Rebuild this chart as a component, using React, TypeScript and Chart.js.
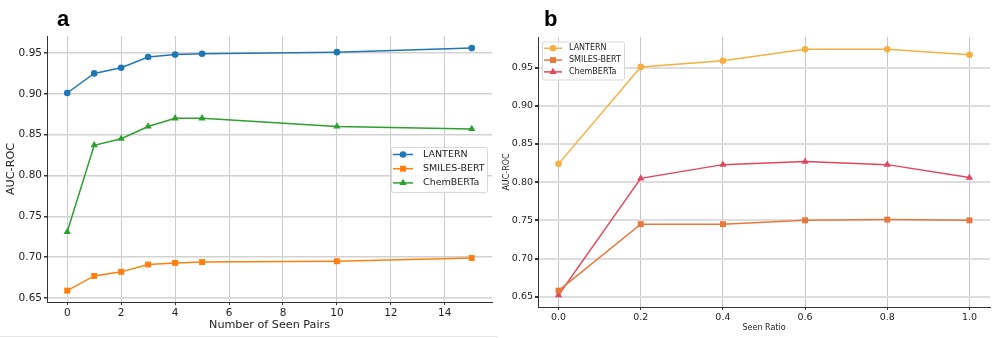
import React, { useEffect, useRef } from "react";
import { Chart, registerables } from "chart.js";

Chart.register(...registerables);

// ---------- Data ----------
const seriesNames = ["LANTERN", "SMILES-BERT", "ChemBERTa"];

// Panel a
const pairsX = [0, 1, 2, 3, 4, 5, 10, 15];
const pairsLantern = [0.901, 0.925, 0.932, 0.945, 0.948, 0.949, 0.951, 0.956];
const pairsSmiles = [0.659, 0.677, 0.682, 0.691, 0.693, 0.694, 0.695, 0.699];
const pairsChem = [0.731, 0.837, 0.845, 0.860, 0.870, 0.870, 0.860, 0.857];
const pairsXTicks = [0, 2, 4, 6, 8, 10, 12, 14];
const aucTicks = [0.65, 0.7, 0.75, 0.8, 0.85, 0.9, 0.95];

// Panel b
const ratioX = [0, 0.2, 0.4, 0.6, 0.8, 1.0];
const ratioLantern = [0.824, 0.951, 0.959, 0.974, 0.974, 0.967];
const ratioSmiles = [0.658, 0.745, 0.745, 0.750, 0.751, 0.750];
const ratioChem = [0.652, 0.805, 0.823, 0.827, 0.823, 0.806];
const ratioXTicks = [0, 0.2, 0.4, 0.6, 0.8, 1.0];

const FONT = "'DejaVu Sans', sans-serif";
Chart.defaults.font.family = FONT;

const toPts = (xs: number[], ys: number[]) => xs.map((x, i) => ({ x, y: ys[i] }));

function drawMarker(ctx: CanvasRenderingContext2D, style: string, x: number, y: number, r: number, color: string) {
  ctx.save();
  ctx.fillStyle = color;
  ctx.beginPath();
  if (style === "circle") {
    ctx.arc(x, y, r, 0, Math.PI * 2);
  } else if (style === "rect") {
    const s = r * Math.SQRT1_2;
    ctx.rect(x - s, y - s, 2 * s, 2 * s);
  } else if (style === "triangle") {
    const xo = r * Math.sin(Math.PI / 3);
    ctx.moveTo(x, y - r);
    ctx.lineTo(x + xo, y + r / 2);
    ctx.lineTo(x - xo, y + r / 2);
    ctx.closePath();
  }
  ctx.fill();
  ctx.restore();
}

const boxLegend = {
  id: "boxLegend",
  afterDraw(chart: any, _args: any, o: any) {
    const ctx: CanvasRenderingContext2D = chart.ctx;
    ctx.save();
    ctx.beginPath();
    (ctx as any).roundRect(o.x + 0.5, o.y + 0.5, o.w, o.h, 2);
    ctx.fillStyle = "rgba(255,255,255,0.85)";
    ctx.fill();
    ctx.strokeStyle = "#d8d8d8";
    ctx.lineWidth = 1;
    ctx.stroke();
    chart.data.datasets.forEach((ds: any, i: number) => {
      const yy = o.rowY + i * o.dy;
      ctx.beginPath();
      ctx.strokeStyle = ds.borderColor;
      ctx.lineWidth = ds.borderWidth;
      ctx.moveTo(o.h0, yy);
      ctx.lineTo(o.h1, yy);
      ctx.stroke();
      drawMarker(ctx, ds.pointStyle, (o.h0 + o.h1) / 2, yy, ds.pointRadius, ds.backgroundColor);
      ctx.fillStyle = "#222";
      ctx.font = `${o.fontSize}px ${FONT}`;
      ctx.textBaseline = "middle";
      ctx.textAlign = "left";
      ctx.fillText(ds.label, o.tx, yy);
    });
    ctx.restore();
  },
};

function makeDatasets(xs: number[], ys: number[][], colors: string[], radii: number[]) {
  const styles = ["circle", "rect", "triangle"];
  return ys.map((y, i) => ({
    label: seriesNames[i],
    data: toPts(xs, y),
    showLine: true,
    borderColor: colors[i],
    backgroundColor: colors[i],
    borderWidth: 1.5,
    pointStyle: styles[i],
    pointRadius: radii[i],
    pointBorderWidth: 0,
    pointHoverRadius: radii[i],
  }));
}

function gridOpts(color: string, width: number) {
  return { color, lineWidth: width, tickColor: "#333", tickLength: 3, drawTicks: true };
}
const borderOpts = { color: "#333", width: 1 };
function tickOpts(size: number) {
  return { color: "#222", font: { family: FONT, size }, padding: 2, maxRotation: 0, autoSkip: false };
}

function ChartA() {
  const ref = useRef<HTMLCanvasElement>(null);
  useEffect(() => {
    const chart = new Chart(ref.current!, {
      type: "scatter",
      data: {
        datasets: makeDatasets(pairsX, [pairsLantern, pairsSmiles, pairsChem], ["#1f77b4", "#ff7f0e", "#2ca02c"], [3.3, 4.2, 4.2]) as any,
      },
      options: {
        responsive: false,
        animation: false,
        layout: { padding: { top: 36, right: 6, left: 0, bottom: 0 } },
        plugins: {
          legend: { display: false },
          tooltip: { enabled: false },
          boxLegend: { x: 391, y: 147, w: 96, h: 45, h0: 393, h1: 413, tx: 423, rowY: 154.5, dy: 14.2, fontSize: 9.5 },
        } as any,
        scales: {
          x: {
            type: "linear",
            min: -0.75,
            max: 15.75,
            afterBuildTicks: (s: any) => { s.ticks = pairsXTicks.map((v) => ({ value: v })); },
            afterFit: (s: any) => { s.height = 36; },
            grid: gridOpts("#cdcdcd", 1),
            border: borderOpts,
            ticks: { ...tickOpts(10.5), callback: (v: any) => String(v) },
            title: { display: true, text: "Number of Seen Pairs", color: "#222", font: { family: FONT, size: 11.2 }, padding: { top: 0, bottom: 6 } },
          },
          y: {
            type: "linear",
            min: 0.6451,
            max: 0.9708,
            afterBuildTicks: (s: any) => { s.ticks = aucTicks.map((v) => ({ value: v })); },
            afterFit: (s: any) => { s.width = 47; },
            grid: gridOpts("#d2d2d2", 1.5),
            border: borderOpts,
            ticks: { ...tickOpts(10.5), callback: (v: any) => Number(v).toFixed(2) },
            title: { display: true, text: "AUC-ROC", color: "#222", font: { family: FONT, size: 11.2 }, padding: { top: 4, bottom: 0 } },
          },
        } as any,
      },
      plugins: [boxLegend as any],
    });
    return () => chart.destroy();
  }, []);
  return <canvas ref={ref} width={498} height={338} style={{ position: "absolute", left: 0, top: 0, display: "block" }} />;
}

function ChartB() {
  const ref = useRef<HTMLCanvasElement>(null);
  useEffect(() => {
    const chart = new Chart(ref.current!, {
      type: "scatter",
      data: {
        datasets: makeDatasets(ratioX, [ratioLantern, ratioSmiles, ratioChem], ["#f5b041", "#e8773a", "#e0465e"], [3.3, 4.2, 4.2]) as any,
      },
      options: {
        responsive: false,
        animation: false,
        layout: { padding: { top: 37, right: 6, left: 0, bottom: 0 } },
        plugins: {
          legend: { display: false },
          tooltip: { enabled: false },
          boxLegend: { x: 44, y: 41.5, w: 82, h: 38, h0: 46, h1: 64, tx: 71, rowY: 48.3, dy: 11.8, fontSize: 8 },
        } as any,
        scales: {
          x: {
            type: "linear",
            min: -0.05,
            max: 1.05,
            afterBuildTicks: (s: any) => { s.ticks = ratioXTicks.map((v) => ({ value: v })); },
            afterFit: (s: any) => { s.height = 31; },
            grid: gridOpts("#c6c6c6", 1),
            border: borderOpts,
            ticks: { ...tickOpts(9.5), callback: (v: any) => Number(v).toFixed(1) },
            title: { display: true, text: "Seen Ratio", color: "#222", font: { family: FONT, size: 8 }, padding: { top: 0, bottom: 5.5 } },
          },
          y: {
            type: "linear",
            min: 0.6365,
            max: 0.9902,
            afterBuildTicks: (s: any) => { s.ticks = aucTicks.map((v) => ({ value: v })); },
            afterFit: (s: any) => { s.width = 40; },
            grid: gridOpts("#dddddd", 2),
            border: borderOpts,
            ticks: { ...tickOpts(9.5), callback: (v: any) => Number(v).toFixed(2) },
            title: { display: true, text: "AUC-ROC", color: "#222", font: { family: FONT, size: 8 }, padding: { top: 4.5, bottom: 0 } },
          },
        } as any,
      },
      plugins: [boxLegend as any],
    });
    return () => chart.destroy();
  }, []);
  return <canvas ref={ref} width={498} height={338} style={{ position: "absolute", left: 498, top: 0, display: "block" }} />;
}

const panelLabel: React.CSSProperties = {
  position: "absolute",
  fontFamily: "'Liberation Sans', Arial, sans-serif",
  fontWeight: "bold",
  fontSize: 22,
  lineHeight: "22px",
  color: "#000",
};

export default function App() {
  return (
    <div style={{ position: "fixed", left: 0, top: 0, width: 996, height: 338, background: "#fff", overflow: "hidden" }}>
      <ChartA />
      <ChartB />
      <div style={{ ...panelLabel, left: 57, top: 8 }}>a</div>
      <div style={{ ...panelLabel, left: 544, top: 8 }}>b</div>
      <div style={{ position: "absolute", left: 0, top: 336, width: 498, height: 1, background: "#e6e6e6" }} />
    </div>
  );
}
